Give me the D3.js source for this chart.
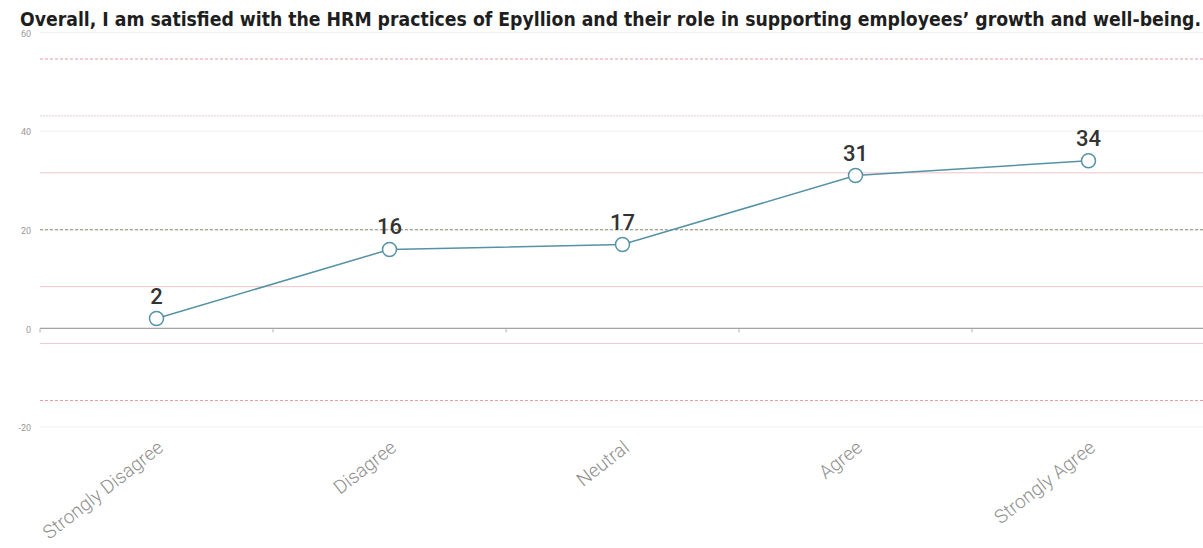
<!DOCTYPE html>
<html>
<head>
<meta charset="utf-8">
<script src="https://cdn.jsdelivr.net/npm/d3@7"></script>
<style>
  html, body { margin: 0; padding: 0; background: #fff; }
  svg { display: block; }
</style>
</head>
<body>
<svg id="chart" width="1203" height="548"></svg>
<script>
// Survey responses
const categories = ["Strongly Disagree", "Disagree", "Neutral", "Agree", "Strongly Agree"];
const counts = [2, 16, 17, 31, 34];
const yTicks = [-20, 0, 20, 40, 60];
const title = "Overall, I am satisfied with the HRM practices of Epyllion and their role in supporting employees\u2019 growth and well-being.";

const W = 1203, H = 548;
const svg = d3.select("#chart");

const x = d3.scaleBand().domain(categories).range([40, 1205]).paddingInner(0).paddingOuter(0);
const y = d3.scaleLinear().domain([-20, 60]).range([427, 32.5]);

// Mean and population standard deviation for the reference bands
const mean = d3.mean(counts);
const sd = Math.sqrt(d3.mean(counts, d => (d - mean) ** 2));

// Horizontal grid
svg.append("g").selectAll("line").data(yTicks).join("line")
  .attr("x1", 40).attr("x2", W)
  .attr("y1", d => y(d)).attr("y2", d => y(d))
  .attr("stroke", "#efefef").attr("stroke-width", 1);

// Y tick labels
svg.append("g").selectAll("text").data(yTicks).join("text")
  .attr("x", 31).attr("y", d => y(d) + 1).attr("dy", "0.35em")
  .attr("text-anchor", "end")
  .attr("font-family", "Roboto, 'Liberation Sans', sans-serif")
  .attr("font-size", 9).attr("fill", "#9a9a9a")
  .text(d => d);

// Reference lines: mean, ±1, ±2, ±3 standard deviations
const refs = [
  { k: 3, stroke: "#e69aa6", dash: "3,2", w: 1 },
  { k: 2, stroke: "#e2d0d3", dash: "2,1", w: 1 },
  { k: 1, stroke: "#eec3ca", dash: null, w: 1 },
  { k: 0, stroke: "#8c8c6e", dash: "3,2", w: 1 },
  { k: -1, stroke: "#eec3ca", dash: null, w: 1 },
  { k: -2, stroke: "#eec8ce", dash: null, w: 1 },
  { k: -3, stroke: "#e69aa6", dash: "3,2", w: 1 }
];
svg.append("g").selectAll("line").data(refs).join("line")
  .attr("x1", 40).attr("x2", W)
  .attr("y1", d => y(mean + d.k * sd)).attr("y2", d => y(mean + d.k * sd))
  .attr("stroke", d => d.stroke)
  .attr("stroke-width", d => d.w)
  .attr("stroke-dasharray", d => d.dash);

// Zero axis with ticks at band boundaries
const axisG = svg.append("g").attr("transform", `translate(0,${y(0)})`);
axisG.append("line").attr("x1", 40).attr("x2", W).attr("y1", 0).attr("y2", 0)
  .attr("stroke", "#a3a3a3").attr("stroke-width", 1.2);
axisG.selectAll("line.tick").data(categories).join("line")
  .attr("class", "tick")
  .attr("x1", d => x(d)).attr("x2", d => x(d))
  .attr("y1", 0).attr("y2", 4)
  .attr("stroke", "#b0b0b0");

// Category labels
svg.append("g").selectAll("text").data(categories).join("text")
  .attr("transform", d => `translate(${x(d) + x.bandwidth() / 2 + 8},${y(-20) + 23}) rotate(-38)`)
  .attr("text-anchor", "end")
  .attr("font-family", "Roboto, 'Liberation Sans', sans-serif")
  .attr("font-size", 19).attr("font-weight", 300).attr("fill", "#8f8f8f")
  .text(d => d);

// Line
const cx = (d, i) => x(categories[i]) + x.bandwidth() / 2;
svg.append("path")
  .datum(counts)
  .attr("fill", "none")
  .attr("stroke", "#5592a5")
  .attr("stroke-width", 1.5)
  .attr("d", d3.line().x(cx).y(d => y(d)));

// Markers
svg.append("g").selectAll("circle").data(counts).join("circle")
  .attr("cx", cx).attr("cy", d => y(d)).attr("r", 7)
  .attr("fill", "#fff").attr("stroke", "#5592a5").attr("stroke-width", 1.5);

// Value labels
svg.append("g").selectAll("text").data(counts).join("text")
  .attr("x", cx).attr("y", d => y(d) - 15)
  .attr("text-anchor", "middle")
  .attr("font-family", "Roboto, 'Liberation Sans', sans-serif")
  .attr("font-size", 22).attr("font-weight", 500).attr("fill", "#333")
  .text(d => d);

// Title
svg.append("text")
  .attr("x", 20).attr("y", 26)
  .attr("font-family", "'Liberation Sans Narrow', 'DejaVu Sans Condensed', 'Liberation Sans', sans-serif")
  .attr("font-size", 19).attr("font-weight", "bold").attr("fill", "#1e1e1e")
  .attr("textLength", 1181).attr("lengthAdjust", "spacingAndGlyphs")
  .text(title);
</script>
</body>
</html>
